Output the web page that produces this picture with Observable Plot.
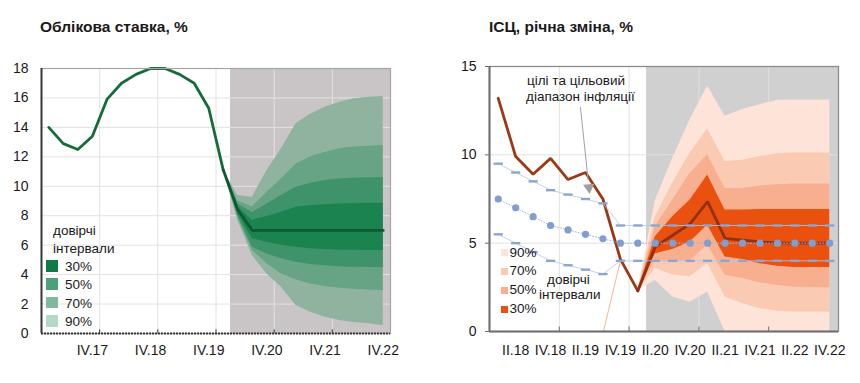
<!DOCTYPE html>
<html>
<head>
<meta charset="utf-8">
<script src="https://cdn.jsdelivr.net/npm/d3@7"></script>
<script src="https://cdn.jsdelivr.net/npm/@observablehq/plot@0.6"></script>
<style>
  html, body { margin: 0; padding: 0; background: #fff; }
  body { width: 860px; height: 383px; position: relative; overflow: hidden;
         font-family: "Liberation Sans", Arial, sans-serif; color: #1a1a1a; }
  .panel { position: absolute; top: 0; width: 430px; height: 383px; }
  .title { position: absolute; top: 18px; font-weight: bold; font-size: 15.5px; line-height: 17px; white-space: nowrap; }
  .plot { position: absolute; left: 0; top: 50px; }
  .lg { position: absolute; font-size: 13.5px; line-height: 15px; white-space: nowrap; }
  .sw { position: absolute; }
</style>
</head>
<body>
<div class="panel" id="leftPanel" style="left:0">
  <div class="title" style="left:40px">Облікова ставка, %</div>
  <div class="plot" id="leftPlot"></div>
</div>
<div class="panel" id="rightPanel" style="left:430px">
  <div class="title" style="left:59px">ІСЦ, річна зміна, %</div>
  <div class="plot" id="rightPlot"></div>
</div>
<script>
// ---------- Left chart: key policy rate ----------
const rateQuarters = ["I.17","II.17","III.17","IV.17","I.18","II.18","III.18","IV.18","I.19","II.19","III.19","IV.19",
                      "I.20","II.20","III.20","IV.20","I.21","II.21","III.21","IV.21","I.22","II.22","III.22","IV.22"];
const rateTickLabels = ["IV.17","IV.18","IV.19","IV.20","IV.21","IV.22"];
const rateYTicks = [0, 2, 4, 6, 8, 10, 12, 14, 16, 18];
const rateActual = [14.0, 12.9, 12.5, 13.4, 15.9, 17.0, 17.6, 18.0, 18.0, 17.6, 17.0, 15.3, 11.1]; // I.17 .. I.20
const rateForecastStart = "I.20";
const rateForecast = [11.1, 8.4, 7.0, 7.0, 7.0, 7.0, 7.0, 7.0, 7.0, 7.0, 7.0, 7.0];              // I.20 .. IV.22
const rateHi90 = [11.1, 9.37, 9.26, 11.07, 12.55, 14.25, 14.9, 15.37, 15.7, 15.94, 16.05, 16.1];
const rateHi70 = [11.1, 9.0, 8.6, 9.6, 10.5, 11.5, 12.0, 12.3, 12.55, 12.66, 12.72, 12.77];
const rateHi50 = [11.1, 8.8, 8.2, 8.8, 9.37, 9.94, 10.2, 10.4, 10.5, 10.55, 10.58, 10.6];
const rateHi30 = [11.1, 8.6, 7.7, 7.95, 8.24, 8.58, 8.7, 8.75, 8.8, 8.82, 8.84, 8.85];
const rateLo30 = [11.1, 8.15, 6.43, 6.2, 6.0, 5.86, 5.75, 5.7, 5.66, 5.65, 5.64, 5.64];
const rateLo50 = [11.1, 8.0, 5.86, 5.4, 5.07, 4.84, 4.69, 4.6, 4.54, 4.5, 4.48, 4.46];
const rateLo70 = [11.1, 7.9, 5.64, 4.73, 4.05, 3.65, 3.37, 3.2, 3.08, 3.0, 2.95, 2.92];
const rateLo90 = [11.1, 7.68, 5.3, 4.05, 3.15, 1.9, 1.45, 1.1, 0.88, 0.75, 0.66, 0.54];
const rateShadeFrom = "II.20";
const rateLegendLabels = ["30%", "50%", "70%", "90%"];
const rateColors = {"90%": "#8FB39F", "70%": "#67A385", "50%": "#3F936A", "30%": "#1B8350"};
const rateLegendColors = {"30%": "#0F7A45", "50%": "#4DA078", "70%": "#7DBB9C", "90%": "#B4D9C6"};

// ---------- Right chart: CPI ----------
const cpiQuarters = ["I.18","II.18","III.18","IV.18","I.19","II.19","III.19","IV.19","I.20","II.20",
                     "III.20","IV.20","I.21","II.21","III.21","IV.21","I.22","II.22","III.22","IV.22"];
const cpiTickLabels = ["II.18","IV.18","II.19","IV.19","II.20","IV.20","II.21","IV.21","II.22","IV.22"];
const cpiYTicks = [0, 5, 10, 15];
const cpiActual = [13.2, 9.9, 8.9, 9.8, 8.6, 9.0, 7.5, 4.1, 2.3];          // I.18 .. I.20
const cpiForecastStart = "I.20";
const cpiForecast = [2.3, 4.8, 5.45, 6.1, 7.35, 5.27, 5.17, 5.07, 5.02, 5.0, 5.0, 5.0]; // I.20 .. IV.22
const cpiHi90 = [2.3, 7.4, 9.8, 12.0, 13.9, 12.18, 12.56, 12.84, 13.09, 13.1, 13.1, 13.1];
const cpiHi70 = [2.3, 6.5, 8.4, 10.1, 11.46, 9.62, 9.7, 9.9, 10.06, 10.1, 10.1, 10.1];
const cpiHi50 = [2.3, 5.93, 7.44, 8.96, 10.0, 8.1, 8.1, 8.24, 8.3, 8.35, 8.35, 8.35];
const cpiHi30 = [2.3, 5.36, 6.5, 7.44, 8.86, 6.88, 6.88, 6.9, 6.9, 6.9, 6.9, 6.9];
const cpiLo30 = [2.3, 4.4, 4.64, 5.07, 6.02, 4.22, 4.07, 3.84, 3.69, 3.62, 3.62, 3.62];
const cpiLo50 = [2.3, 4.03, 3.9, 4.0, 4.89, 3.18, 3.0, 2.75, 2.61, 2.5, 2.48, 2.48];
const cpiLo70 = [2.3, 3.56, 3.2, 3.1, 3.85, 1.95, 1.57, 1.29, 1.15, 1.1, 1.1, 1.1];
const cpiLo90 = [2.3, 2.9, 1.95, 1.66, 2.23, 0, 0, 0, 0, 0, 0, 0];
const cpiShadeFrom = "II.20";
const targetMid = [7.5, 7.0, 6.5, 6.0, 5.75, 5.5, 5.25, 5, 5, 5, 5, 5, 5, 5, 5, 5, 5, 5, 5, 5];
const targetHi  = [9.5, 9.0, 8.5, 8.0, 7.75, 7.5, 7.25, 6, 6, 6, 6, 6, 6, 6, 6, 6, 6, 6, 6, 6];
const targetLo  = [5.5, 5.0, 4.5, 4.0, 3.75, 3.5, 3.25, 4, 4, 4, 4, 4, 4, 4, 4, 4, 4, 4, 4, 4];
const cpiLegendLabels = ["90%", "70%", "50%", "30%"];
const cpiColors = {"90%": "#FDE3D8", "70%": "#FBCAB3", "50%": "#F8AF8F", "30%": "#EA500E"};
// annotation anchors (quarter index, value)
const arrowFrom = {q: 4.71, v: 12.7};
const arrowTo = {q: 5.15, v: 8.6};
const arrowHead = {q: 5.2, v: 8.15};
const leaderFrom = {q: 6.03, v: 0};
const leaderTo = {q: "IV.19", v: 4.0};

// ---------- helpers ----------
const fanRows = (quarters, start, arrs) => {
  const s = quarters.indexOf(start);
  return arrs.hi90.map((_, k) => ({
    i: s + k, hi90: arrs.hi90[k], hi70: arrs.hi70[k], hi50: arrs.hi50[k], hi30: arrs.hi30[k],
    lo30: arrs.lo30[k], lo50: arrs.lo50[k], lo70: arrs.lo70[k], lo90: arrs.lo90[k]
  }));
};
const seriesRows = (startIdx, vals) => vals.map((v, k) => ({i: startIdx + k, v}));
const boundaries = (n) => d3.range(3.5, n - 0.5, 4);
const dashSymbol = {draw(ctx, size) { const r = Math.sqrt(size / Math.PI); ctx.moveTo(-r, 0); ctx.lineTo(r, 0); }};

// ---------- left plot ----------
{
  const N = rateQuarters.length;
  const fan = fanRows(rateQuarters, rateForecastStart, {hi90: rateHi90, hi70: rateHi70, hi50: rateHi50, hi30: rateHi30,
                                                       lo30: rateLo30, lo50: rateLo50, lo70: rateLo70, lo90: rateLo90});
  const actual = seriesRows(0, rateActual);
  const fc = seriesRows(rateQuarters.indexOf(rateForecastStart), rateForecast);
  const shadeStart = rateQuarters.indexOf(rateShadeFrom) - 0.5;
  const yMax = d3.max(rateYTicks);
  const bands = [["90%", "lo90", "hi90"], ["70%", "lo70", "hi70"], ["50%", "lo50", "hi50"], ["30%", "lo30", "hi30"]];
  const chart = Plot.plot({
    width: 430, height: 333,
    marginTop: 18, marginBottom: 50, marginLeft: 41, marginRight: 40,
    x: {type: "linear", domain: [-0.5, N - 0.5]},
    y: {domain: [0, yMax]},
    style: {fontFamily: "Liberation Sans, Arial, sans-serif", fontSize: "14px", color: "#1a1a1a", background: "transparent"},
    marks: [
      Plot.rect([0], {x1: shadeStart, x2: N - 0.5, y1: 0, y2: yMax, fill: "#C9C4C6"}),
      Plot.ruleY(rateYTicks.filter(d => d > 0 && d < yMax), {stroke: "#E2E2E2", strokeWidth: 1}),
      Plot.ruleX(boundaries(N), {stroke: "#E2E2E2", strokeWidth: 1}),
      ...bands.map(([k, lo, hi]) => Plot.areaY(fan, {x: "i", y1: lo, y2: hi, fill: rateColors[k]})),
      Plot.line(actual, {x: "i", y: "v", stroke: "#166B3B", strokeWidth: 2.8, strokeLinejoin: "round"}),
      Plot.line(fc, {x: "i", y: "v", stroke: "#0D5A30", strokeWidth: 2.8, strokeLinejoin: "round"}),
      Plot.frame({stroke: "#A6A6A6", strokeWidth: 1.2}),
      Plot.ruleX([-0.5], {stroke: "#3A3A3A", strokeWidth: 2}),
      Plot.ruleY([0], {stroke: "#3A3A3A", strokeWidth: 2, strokeDasharray: "2,1"}),
      Plot.ruleX(boundaries(N), {y1: 0, y2: 0.25, stroke: "#3A3A3A", strokeWidth: 1}),
      Plot.axisY(rateYTicks, {tickSize: 0, tickPadding: 13, fontSize: 14, label: null}),
      Plot.axisX(rateTickLabels.map(l => rateQuarters.indexOf(l)),
                 {tickSize: 0, tickPadding: 12, fontSize: 14, label: null, tickFormat: i => rateQuarters[i]})
    ]
  });
  document.getElementById("leftPlot").appendChild(chart);

  const panel = document.getElementById("leftPanel");
  const add = (html, css) => { const d = document.createElement("div"); d.className = "lg"; d.innerHTML = html; d.style.cssText += css; panel.appendChild(d); };
  add("довірчі", "left:53px;top:223px;");
  add("інтервали", "left:53px;top:241px;");
  const ys = [260, 278, 296.5, 315];
  rateLegendLabels.forEach((lab, k) => {
    const s = document.createElement("div");
    s.className = "sw";
    s.style.cssText = `left:46px;top:${ys[k]}px;width:12px;height:11.5px;background:${rateLegendColors[lab]};`;
    panel.appendChild(s);
    add(lab, `left:65px;top:${ys[k] - 1}px;`);
  });
}

// ---------- right plot ----------
{
  const N = cpiQuarters.length;
  const fan = fanRows(cpiQuarters, cpiForecastStart, {hi90: cpiHi90, hi70: cpiHi70, hi50: cpiHi50, hi30: cpiHi30,
                                                     lo30: cpiLo30, lo50: cpiLo50, lo70: cpiLo70, lo90: cpiLo90});
  const actual = seriesRows(0, cpiActual);
  const fc = seriesRows(cpiQuarters.indexOf(cpiForecastStart), cpiForecast);
  const targets = targetMid.map((m, k) => ({i: k, mid: m, hi: targetHi[k], lo: targetLo[k]}));
  const shadeStart = cpiQuarters.indexOf(cpiShadeFrom) - 0.5;
  const yMax = d3.max(cpiYTicks);
  const bands = [["90%", "lo90", "hi90"], ["70%", "lo70", "hi70"], ["50%", "lo50", "hi50"], ["30%", "lo30", "hi30"]];
  const blue = "#8DA5D0";
  const chart = Plot.plot({
    width: 430, height: 333,
    marginTop: 16, marginBottom: 52, marginLeft: 59, marginRight: 22,
    x: {type: "linear", domain: [-0.5, N - 0.5]},
    y: {domain: [0, yMax]},
    style: {fontFamily: "Liberation Sans, Arial, sans-serif", fontSize: "14px", color: "#1a1a1a", background: "transparent"},
    marks: [
      Plot.rect([0], {x1: shadeStart, x2: N - 0.5, y1: 0, y2: yMax, fill: "#D0D0D0"}),
      Plot.ruleY(cpiYTicks.filter(d => d > 0 && d < yMax), {stroke: "#E0E0E0", strokeWidth: 1}),
      Plot.ruleX(boundaries(N), {stroke: "#E0E0E0", strokeWidth: 1}),
      ...bands.map(([k, lo, hi]) => Plot.areaY(fan, {x: "i", y1: lo, y2: hi, fill: cpiColors[k]})),
      Plot.link([0], {x1: () => leaderFrom.q, y1: () => leaderFrom.v, x2: () => cpiQuarters.indexOf(leaderTo.q), y2: () => leaderTo.v,
                      stroke: "#F2A27E", strokeWidth: 0.8}),
      Plot.line(actual, {x: "i", y: "v", stroke: "#9C3812", strokeWidth: 2.8, strokeLinejoin: "miter"}),
      Plot.line(fc, {x: "i", y: "v", stroke: "#93300F", strokeWidth: 2.8, strokeLinejoin: "miter"}),
      Plot.line(targets, {x: "i", y: "hi", stroke: "#B5C6E5", strokeWidth: 0.8}),
      Plot.line(targets, {x: "i", y: "lo", stroke: "#B5C6E5", strokeWidth: 0.8}),
      Plot.line(targets, {x: "i", y: "mid", stroke: "#A3B7DD", strokeWidth: 1, strokeDasharray: "1,2"}),
      Plot.dot(targets, {x: "i", y: "hi", symbol: dashSymbol, r: 4.6, fill: "none", stroke: blue, strokeWidth: 2.4}),
      Plot.dot(targets, {x: "i", y: "lo", symbol: dashSymbol, r: 4.6, fill: "none", stroke: blue, strokeWidth: 2.4}),
      Plot.dot(targets, {x: "i", y: "mid", r: 3.6, fill: "#819ECF", stroke: "none"}),
      Plot.link([0], {x1: () => arrowFrom.q, y1: () => arrowFrom.v, x2: () => arrowTo.q, y2: () => arrowTo.v,
                      stroke: "#A0A0A0", strokeWidth: 1}),
      Plot.dot([0], {x: () => arrowHead.q, y: () => arrowHead.v, symbol: "triangle", r: 4.2, rotate: 174, fill: "#A0A0A0", stroke: "none"}),
      Plot.frame({stroke: "#8C8C8C", strokeWidth: 1.3}),
      Plot.ruleX([-0.5], {stroke: "#6E6E6E", strokeWidth: 2}),
      Plot.ruleY([0], {stroke: "#6E6E6E", strokeWidth: 2}),
      Plot.ruleX(boundaries(N), {y1: 0, y2: 0.25, stroke: "#6E6E6E", strokeWidth: 1}),
      Plot.axisY(cpiYTicks, {tickSize: 4, tickPadding: 9, fontSize: 14, label: null, stroke: "#6E6E6E"}),
      Plot.axisX(cpiTickLabels.map(l => cpiQuarters.indexOf(l)),
                 {tickSize: 0, tickPadding: 14, fontSize: 14, label: null, tickFormat: i => cpiQuarters[i]})
    ]
  });
  document.getElementById("rightPlot").appendChild(chart);

  const panel = document.getElementById("rightPanel");
  const add = (html, css) => { const d = document.createElement("div"); d.className = "lg"; d.innerHTML = html; d.style.cssText += css; panel.appendChild(d); };
  add("цілі та цільовий", "left:97px;top:73px;");
  add("діапазон інфляції", "left:96px;top:89px;");
  add("довірчі", "left:117px;top:272px;");
  add("інтервали", "left:109px;top:287px;");
  const ys = [249, 267.5, 286.5, 305.5];
  cpiLegendLabels.forEach((lab, k) => {
    const s = document.createElement("div");
    s.className = "sw";
    s.style.cssText = `left:71px;top:${ys[k]}px;width:7px;height:7px;background:${cpiColors[lab]};`;
    panel.appendChild(s);
    add(lab, `left:79.5px;top:${ys[k] - 4.5}px;`);
  });
}
</script>
</body>
</html>
